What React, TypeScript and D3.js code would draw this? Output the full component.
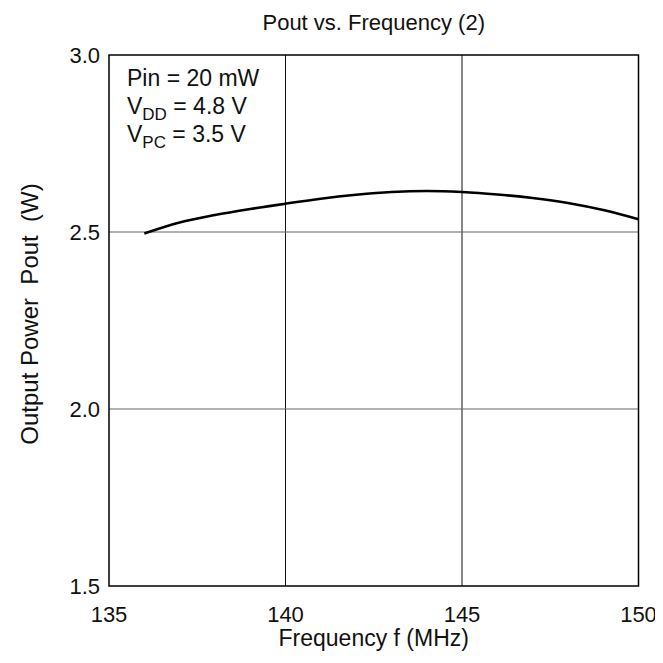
import React, { useEffect, useRef } from 'react';
import * as d3 from 'd3';

const freqs = [136, 137, 138, 139, 140, 141, 142, 143, 144, 145, 146, 147, 148, 149, 150];
const pout = [2.496, 2.527, 2.548, 2.565, 2.58, 2.594, 2.605, 2.613, 2.616, 2.613, 2.606, 2.596, 2.582, 2.562, 2.536];
const xTicks = [135, 140, 145, 150];
const yTicks = [1.5, 2.0, 2.5, 3.0];

const App = () => {
    const ref = useRef<SVGSVGElement>(null);

    useEffect(() => {
        if (!ref.current) return;
        const svg = d3.select(ref.current);
        svg.selectAll("*").remove();

        const W = 663, H = 663;
        const m = { top: 55, right: 24.5, bottom: 77, left: 109 };
        const iw = W - m.left - m.right;
        const ih = H - m.top - m.bottom;
        const font = "'Liberation Sans', Arial, sans-serif";

        svg.attr("width", W).attr("height", H).style("font-family", font);

        const x = d3.scaleLinear().domain([135, 150]).range([m.left, m.left + iw]);
        const y = d3.scaleLinear().domain([1.5, 3.0]).range([m.top + ih, m.top]);

        // grid
        svg.append("g").selectAll("line").data(xTicks.slice(1, -1)).join("line")
            .attr("x1", d => x(d)).attr("x2", d => x(d))
            .attr("y1", m.top).attr("y2", m.top + ih)
            .attr("stroke", "#111").attr("stroke-width", 1);
        svg.append("g").selectAll("line").data(yTicks.slice(1, -1)).join("line")
            .attr("x1", m.left).attr("x2", m.left + iw)
            .attr("y1", d => y(d)).attr("y2", d => y(d))
            .attr("stroke", "#666").attr("stroke-width", 1.2);

        // frame
        svg.append("rect")
            .attr("x", m.left).attr("y", m.top).attr("width", iw).attr("height", ih)
            .attr("fill", "none").attr("stroke", "#000").attr("stroke-width", 1.5);

        // tick labels
        svg.append("g").selectAll("text").data(xTicks).join("text")
            .attr("x", d => x(d)).attr("y", m.top + ih + 36)
            .attr("text-anchor", "middle").attr("font-size", 22).attr("fill", "#111")
            .text(d => d);
        svg.append("g").selectAll("text").data(yTicks).join("text")
            .attr("x", m.left - 9).attr("y", d => y(d) + 8)
            .attr("text-anchor", "end").attr("font-size", 22).attr("fill", "#111")
            .text(d => d.toFixed(1));

        // titles
        svg.append("text").attr("x", m.left + iw / 2).attr("y", 30)
            .attr("text-anchor", "middle").attr("font-size", 22).attr("fill", "#111")
            .text("Pout vs. Frequency (2)");
        svg.append("text").attr("x", m.left + iw / 2).attr("y", 646)
            .attr("text-anchor", "middle").attr("font-size", 23).attr("fill", "#111")
            .text("Frequency f (MHz)");
        svg.append("text")
            .attr("transform", `translate(38,314) rotate(-90)`)
            .attr("text-anchor", "middle").attr("font-size", 24).attr("fill", "#111")
            .attr("xml:space", "preserve").style("white-space", "pre")
            .text("Output Power  Pout  (W)");

        // curve
        const line = d3.line<number>()
            .x((d, i) => x(freqs[i]))
            .y(d => y(d))
            .curve(d3.curveMonotoneX);
        svg.append("path").datum(pout)
            .attr("fill", "none").attr("stroke", "#000").attr("stroke-width", 2.6)
            .attr("d", line);

        // annotation
        const ann = svg.append("g").attr("font-size", 23).attr("fill", "#111");
        ann.append("text").attr("x", 127).attr("y", 86).text("Pin = 20 mW");
        const t2 = ann.append("text").attr("x", 127).attr("y", 114);
        t2.append("tspan").text("V");
        t2.append("tspan").attr("font-size", 17).attr("dy", 6).text("DD");
        t2.append("tspan").attr("dy", -6).text(" = 4.8 V");
        const t3 = ann.append("text").attr("x", 127).attr("y", 142);
        t3.append("tspan").text("V");
        t3.append("tspan").attr("font-size", 17).attr("dy", 6).text("PC");
        t3.append("tspan").attr("dy", -6).text(" = 3.5 V");
    }, []);

    return (
        <div style={{ margin: -8 }}>
            <svg ref={ref} />
        </div>
    );
};

export default App;
